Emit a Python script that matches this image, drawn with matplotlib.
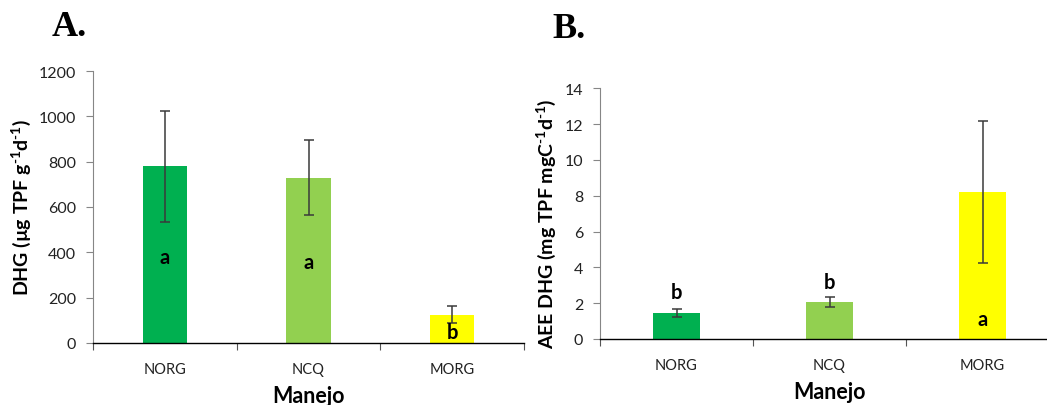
import matplotlib.pyplot as plt
import numpy as np

categorias = ["NORG", "NCQ", "MORG"]
colores = ["#00B050", "#92D050", "#FFFF00"]

dhg = [780, 730, 125]
dhg_err = [245, 165, 38]
dhg_letras = ["a", "a", "b"]
dhg_letras_y = [380, 358, 48]

aee = [1.45, 2.05, 8.2]
aee_err = [0.23, 0.27, 3.95]
aee_letras = ["b", "b", "a"]
aee_letras_y = [2.6, 3.2, 1.1]

plt.rcParams['font.family'] = ['Lato', 'DejaVu Sans']
plt.rcParams['mathtext.fontset'] = 'custom'
plt.rcParams['mathtext.rm'] = 'Lato:bold'
plt.rcParams['mathtext.bf'] = 'Lato:bold'
plt.rcParams['mathtext.it'] = 'Lato:bold'

W, H = 1047, 406
fig = plt.figure(figsize=(W / 100, H / 100), dpi=100)


def panel(rect, vals, errs, letras, letras_y, ymax, ystep, ylabel, titulo, tpos):
    ax = fig.add_axes(rect)
    x = np.arange(len(categorias))
    ax.bar(x, vals, width=0.31, color=colores, zorder=2)
    ax.errorbar(x, vals, yerr=errs, fmt='none', ecolor='#3a3a3a',
                elinewidth=1.1, capsize=3.5, capthick=1.1, zorder=3)
    for xi, t, yy in zip(x, letras, letras_y):
        ax.text(xi, yy, t, ha='center', va='center', fontsize=14.5,
                fontweight='bold', color='black', zorder=4)
    ax.set_xlim(-0.5, 2.5)
    ax.set_ylim(0, ymax)
    ax.set_yticks(np.arange(0, ymax + ystep / 2, ystep))
    ax.set_xticks(x)
    ax.set_xticklabels(categorias, fontsize=10.5, color='#222222')
    ax.set_xticks([-0.5, 0.5, 1.5, 2.5], minor=True)
    ax.tick_params(axis='x', which='major', length=0, pad=14)
    ax.tick_params(axis='x', which='minor', length=5, width=0.8, color='#555555')
    ax.tick_params(axis='y', length=5, width=0.8, color='#868686',
                   labelsize=11.5, labelcolor='#222222', pad=7)
    for s in ['top', 'right']:
        ax.spines[s].set_visible(False)
    ax.spines['left'].set_color('#868686')
    ax.spines['bottom'].set_color('black')
    ax.spines['bottom'].set_linewidth(1.0)
    ax.set_ylabel(ylabel, fontsize=14, fontweight='bold')
    ax.set_xlabel("Manejo", fontsize=15.5, fontweight='bold', labelpad=6)
    fig.text(tpos[0], tpos[1], titulo, fontsize=26, fontweight='bold',
             family='Liberation Serif', ha='left', va='center')
    return ax


axA = panel([93 / W, 1 - 344 / H, 431 / W, 272 / H], dhg, dhg_err, dhg_letras,
            dhg_letras_y, 1200, 200, "DHG (µg TPF g$^{\\text{-1}}$d$^{\\text{-1}}$)",
            "A.", (52 / W, 1 - 27 / H))
axA.yaxis.set_label_coords(-0.14, 0.5)

axB = panel([600 / W, 1 - 340 / H, 459 / W, 250.7 / H], aee, aee_err, aee_letras,
            aee_letras_y, 14, 2, "AEE DHG (mg TPF mgC$^{\\text{-1}}$d$^{\\text{-1}}$)",
            "B.", (552 / W, 1 - 30 / H))
axB.yaxis.set_label_coords(-0.092, 0.463)

fig.savefig("out.png", dpi=100)
